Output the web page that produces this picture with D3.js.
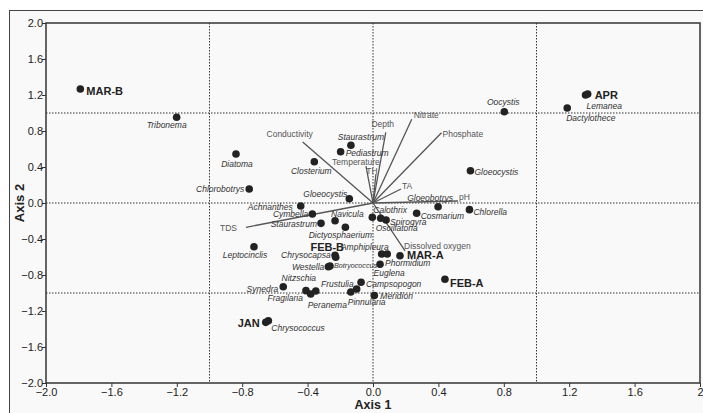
<!DOCTYPE html>
<html lang="en">
<head>
<meta charset="utf-8">
<title>CCA biplot</title>
<script src="https://d3js.org/d3.v7.min.js"></script>
<style type="text/css">
  body { margin: 0; background: #fff; }
  text { font-family: "Liberation Sans", Arial, sans-serif; }
</style>
</head>
<body>
<script type="text/javascript">
// axis ticks
var xTicks = [-2.0, -1.6, -1.2, -0.8, -0.4, 0.0, 0.4, 0.8, 1.2, 1.6, 2];
var yTicks = [-2.0, -1.6, -1.2, -0.8, -0.4, 0.0, 0.4, 0.8, 1.2, 1.6, 2.0];
var refLines = [-1, 0, 1];

// sites (sampling months)
var siteNames = ["MAR-B", "APR", "FEB-B", "MAR-A", "FEB-A", "JAN"];
var siteAx1 = [-1.790, 1.313, -0.232, 0.165, 0.440, -0.656];
var siteAx2 = [1.267, 1.211, -0.580, -0.586, -0.848, -1.326];

// species scores
var speciesNames = ["Tribonema", "Oocystis", "Dactylothece", "Lemanea", "Diatoma", "Staurastrum",
  "Pediastrum", "Closterium", "Gloeocystis", "Chlorobotrys", "Gloeocystis", "Gloeobotrys",
  "Chlorella", "Achnanthes", "Cymbella", "Navicula", "Staurastrum", "Dictyosphaerium",
  "Calothrix", "Oscillatoria", "Spirogyra", "Cosmarium", "Leptocinclis", "Chrysocapsa",
  "Westella", "Botryococcus", "Amphipleura", "Euglena", "Phormidium", "Synedra", "Nitzschia",
  "Fragilaria", "Peranema", "Frustulia", "Pinnularia", "Campsopogon", "Meridion", "Chrysococcus"];
var speciesAx1 = [-1.201, 0.803, 1.188, 1.300, -0.838, -0.135,
  -0.198, -0.359, 0.596, -0.757, -0.145, 0.398,
  0.590, -0.442, -0.371, -0.232, -0.318, -0.169,
  -0.004, 0.047, 0.080, 0.267, -0.728, -0.228,
  -0.273, -0.263, 0.053, 0.087, 0.043, -0.549, -0.350,
  -0.410, -0.381, -0.100, -0.136, -0.073, 0.008, -0.640];
var speciesAx2 = [0.952, 1.014, 1.056, 1.200, 0.544, 0.641,
  0.570, 0.459, 0.359, 0.156, 0.048, -0.041,
  -0.074, -0.033, -0.122, -0.197, -0.226, -0.270,
  -0.159, -0.170, -0.189, -0.114, -0.486, -0.603,
  -0.708, -0.700, -0.567, -0.567, -0.681, -0.930, -0.978,
  -0.974, -1.011, -0.956, -0.989, -0.881, -1.028, -1.308];

// environmental vectors
var envNames = ["Conductivity", "Depth", "Nitrate", "Phosphate", "Temperature", "TH",
  "TA", "pH", "TDS", "Dissolved oxygen"];
var envAx1 = [-0.430, 0.078, 0.237, 0.419, -0.043, 0.018, 0.171, 0.520, -0.777, 0.196];
var envAx2 = [0.678, 0.786, 0.930, 0.781, 0.411, 0.322, 0.156, 0.022, -0.270, -0.533];

// label placement (pixel offsets from the point: dx, dy, anchor)
var siteLabelPos = [[6, 6, "start"], [7, 5, "start"], [9, -4, "end"], [7, 3, "start"],
  [5, 8, "start"], [-6, 5, "end"]];
var speciesLabelPos = [[-10, 11, "middle"], [-1, -7, "middle"], [-1, 13, "start"], [1, 14, "start"],
  [1, 13, "middle"], [10, -5, "middle"], [5, 4, "start"], [-3, 12, "middle"], [4, 4, "start"],
  [-5, 3, "end"], [-2, -2, "end"], [-8, -6, "middle"], [4, 5, "start"], [-8, 4, "end"],
  [-4, 3, "end"], [-4, -4, "start"], [-4, 4, "end"], [-5, 11, "middle"], [1, -4, "start"],
  [-5, 13, "start"], [4, 5, "start"], [4, 6, "start"], [-9, 11, "middle"], [-5, 1, "end"],
  [-4, 3, "end"], [4, 2, "start"], [7, -4, "end"], [2, 22, "middle"], [5, 2, "start"],
  [-5, 5, "end"], [-17, -10, "middle"], [-3, 10, "end"], [-3, 14, "start"], [-3, -2, "end"],
  [-3, 13, "start"], [5, 5, "start"], [6, 3, "start"], [3, 10, "start"]];
var envLabelPos = [[-13, -5, "middle"], [-3, -5, "middle"], [2, -1, "start"], [1, 4, "start"],
  [-10, -1, "middle"], [-4, 0, "middle"], [1, 0, "start"], [1, -1, "start"], [-9, 4, "end"],
  [-1, -2, "start"]];

var width = 703, height = 413;
var x = d3.scaleLinear().domain([-2, 2]).range([46, 700]);
var y = d3.scaleLinear().domain([-2, 2]).range([383, 23]);

var svg = d3.select("body").append("svg")
    .attr("width", width)
    .attr("height", height);

// outer frame
svg.append("rect")
    .attr("x", 9.5).attr("y", 10.5)
    .attr("width", 720).attr("height", 420)
    .attr("fill", "#f9f9f9")
    .attr("stroke", "#444").attr("stroke-width", 1);

// dotted reference lines
svg.selectAll("line.vref").data(refLines).enter().append("line")
    .attr("x1", function(d) { return x(d); }).attr("x2", function(d) { return x(d); })
    .attr("y1", y(2)).attr("y2", y(-2))
    .attr("stroke", "#333").attr("stroke-width", 1).attr("stroke-dasharray", "1.5,1.5");
svg.selectAll("line.href").data(refLines).enter().append("line")
    .attr("y1", function(d) { return y(d); }).attr("y2", function(d) { return y(d); })
    .attr("x1", x(-2)).attr("x2", x(2))
    .attr("stroke", "#333").attr("stroke-width", 1).attr("stroke-dasharray", "1.5,1.5");

// axes
var xAxis = d3.axisBottom(x).tickValues(xTicks).tickSize(4).tickSizeOuter(0)
    .tickFormat(function(d) { return d === 2 ? "2" : d3.format(".1f")(d); });
var yAxis = d3.axisLeft(y).tickValues(yTicks).tickSize(4).tickSizeOuter(0)
    .tickFormat(d3.format(".1f"));
var gx = svg.append("g").attr("transform", "translate(0," + y(-2) + ")").call(xAxis);
var gy = svg.append("g").attr("transform", "translate(" + x(-2) + ",0)").call(yAxis);
[gx, gy].forEach(function(g) {
  g.select(".domain").remove();
  g.selectAll("line").attr("stroke", "#333");
  g.selectAll("text").attr("font-size", 11).attr("fill", "#222")
    .style("font-family", "'Liberation Sans', Arial, sans-serif");
});
gx.selectAll("text").attr("y", 5);
gy.selectAll("text").attr("x", -3);

// plot border
svg.append("rect")
    .attr("x", x(-2)).attr("y", y(2))
    .attr("width", x(2) - x(-2)).attr("height", y(-2) - y(2))
    .attr("fill", "none").attr("stroke", "#333").attr("stroke-width", 1.5);

// axis titles
svg.append("text").attr("x", x(0)).attr("y", 409)
    .attr("text-anchor", "middle").attr("font-size", 12.5).attr("font-weight", "bold")
    .attr("fill", "#222").text("Axis 1");
svg.append("text").attr("transform", "translate(24," + y(0) + ") rotate(-90)")
    .attr("text-anchor", "middle").attr("font-size", 13).attr("font-weight", "bold")
    .attr("fill", "#222").text("Axis 2");

// environmental vectors
var envIdx = d3.range(envNames.length);
svg.selectAll("line.env").data(envIdx).enter().append("line")
    .attr("x1", x(0)).attr("y1", y(0))
    .attr("x2", function(i) { return x(envAx1[i]); })
    .attr("y2", function(i) { return y(envAx2[i]); })
    .attr("stroke", "#555").attr("stroke-width", 1.3);
svg.selectAll("text.env").data(envIdx).enter().append("text")
    .attr("x", function(i) { return x(envAx1[i]) + envLabelPos[i][0]; })
    .attr("y", function(i) { return y(envAx2[i]) + envLabelPos[i][1]; })
    .attr("text-anchor", function(i) { return envLabelPos[i][2]; })
    .attr("font-size", 8.5).attr("fill", "#555")
    .text(function(i) { return envNames[i]; });

// species
var spIdx = d3.range(speciesNames.length);
svg.selectAll("circle.sp").data(spIdx).enter().append("circle")
    .attr("cx", function(i) { return x(speciesAx1[i]); })
    .attr("cy", function(i) { return y(speciesAx2[i]); })
    .attr("r", 3.8).attr("fill", "#222");
svg.selectAll("text.sp").data(spIdx).enter().append("text")
    .attr("x", function(i) { return x(speciesAx1[i]) + speciesLabelPos[i][0]; })
    .attr("y", function(i) { return y(speciesAx2[i]) + speciesLabelPos[i][1]; })
    .attr("text-anchor", function(i) { return speciesLabelPos[i][2]; })
    .attr("font-size", function(i) { return speciesNames[i] === "Botryococcus" ? 7.2 : 8.5; })
    .attr("font-style", "italic").attr("fill", "#333")
    .text(function(i) { return speciesNames[i]; });

// sites
var siteIdx = d3.range(siteNames.length);
svg.selectAll("circle.site").data(siteIdx).enter().append("circle")
    .attr("cx", function(i) { return x(siteAx1[i]); })
    .attr("cy", function(i) { return y(siteAx2[i]); })
    .attr("r", 3.8).attr("fill", "#222");
svg.selectAll("text.site").data(siteIdx).enter().append("text")
    .attr("x", function(i) { return x(siteAx1[i]) + siteLabelPos[i][0]; })
    .attr("y", function(i) { return y(siteAx2[i]) + siteLabelPos[i][1]; })
    .attr("text-anchor", function(i) { return siteLabelPos[i][2]; })
    .attr("font-size", 11).attr("font-weight", "bold").attr("fill", "#222")
    .text(function(i) { return siteNames[i]; });
</script>
</body>
</html>
